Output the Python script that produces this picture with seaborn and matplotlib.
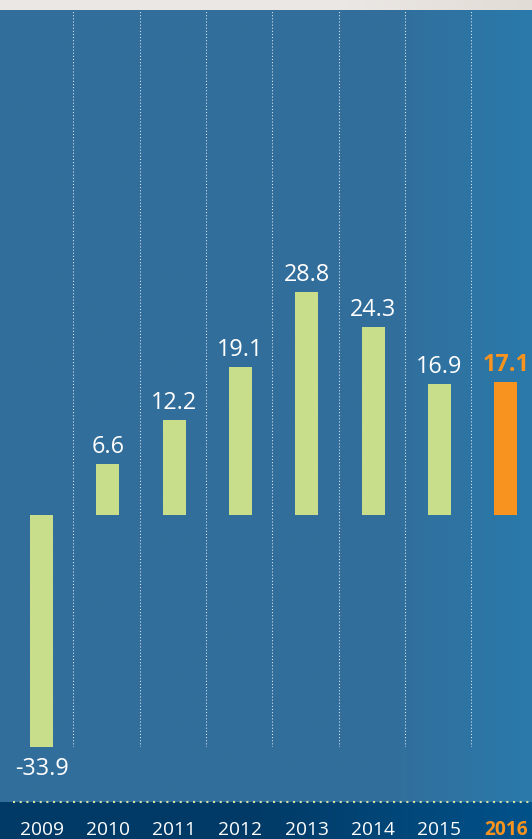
import numpy as np
import pandas as pd
import matplotlib
matplotlib.use("Agg")
import matplotlib.pyplot as plt
import seaborn as sns
from matplotlib.colors import to_rgb

# ---- data ----
years = ["2009", "2010", "2011", "2012", "2013", "2014", "2015", "2016"]
values = [-33.9, 6.6, 12.2, 19.1, 28.8, 24.3, 16.9, 17.1]
highlight_year = "2016"

# ---- style ----
sns.set_theme(style="white")
plt.rcParams['font.family'] = ['Open Sans', 'DejaVu Sans']

BAR_GREEN = "#c9de8a"
ORANGE = "#f7931e"
WHITE = "#ffffff"

W, H = 532, 839
fig = plt.figure(figsize=(W / 100, H / 100), dpi=100)

# background layer (pixel coordinates, y upward)
bg = fig.add_axes([0, 0, 1, 1], zorder=0)
bg.set_xlim(0, W)
bg.set_ylim(0, H)
bg.axis('off')


def hgrad(ax, y0, y1, c0, c1, start):
    xs = np.linspace(0, W, 400)
    t = np.clip((xs - start) / (W - start), 0, 1)[:, None]
    a, b = np.array(to_rgb(c0)), np.array(to_rgb(c1))
    img = (a + (b - a) * t)[None, :, :]
    ax.imshow(img, extent=(0, W, y0, y1), aspect='auto',
              interpolation='bilinear', origin='lower', zorder=0)


hgrad(bg, H - 10, H, "#ebe7e4", "#e2dcd6", 350)          # top light strip
hgrad(bg, 37, H - 10, "#326e9b", "#2a7aab", 390)         # main blue panel
hgrad(bg, 0, 37, "#013a66", "#02528a", 250)              # bottom navy band
bg.plot([13, W], [H - 802, H - 802], color="#d3e3a4", lw=1.5,
        ls=(0, (1, 2.2)), solid_capstyle='round', zorder=2)
bg.set_xlim(0, W)
bg.set_ylim(0, H)

# ---- main chart ----
ax = fig.add_axes([0, (H - 747) / H, 1, (747 - 10) / H], zorder=1)
ax.patch.set_alpha(0)

df = pd.DataFrame({"year": years, "value": values})
palette = {y: (ORANGE if y == highlight_year else BAR_GREEN) for y in years}
sns.barplot(data=df, x="year", y="value", hue="year", palette=palette,
            width=0.347, saturation=1, legend=False, ax=ax, zorder=2,
            linewidth=0, edgecolor="none")

ymin, ymax = -30, 65.2
ax.set_xlim(-0.626, 7.398)
ax.set_ylim(ymin, ymax)
for s in ax.spines.values():
    s.set_visible(False)
ax.set_xticks([])
ax.set_yticks([])
ax.set_xlabel("")
ax.set_ylabel("")

# dotted column separators
for i in range(len(years) - 1):
    ax.axvline(i + 0.48, color="#dfeaf3", lw=0.75, ls=(0, (1, 2)), zorder=1)

# value labels
for i, (y, v) in enumerate(zip(years, values)):
    hl = (y == highlight_year)
    col = ORANGE if hl else WHITE
    weight = 'bold' if hl else 'normal'
    if v >= 0:
        ax.annotate(f"{v}", (i, v), xytext=(0, 7.9), textcoords='offset points',
                    ha='center', va='baseline', fontsize=16.8, color=col,
                    fontweight=weight, annotation_clip=False)
    else:
        ax.annotate(f"{v}", (i, max(v, ymin)), xytext=(0, -20),
                    textcoords='offset points', ha='center', va='baseline',
                    fontsize=16.8, color=col, fontweight=weight,
                    annotation_clip=False)

# year labels in bottom band
for i, y in enumerate(years):
    hl = (y == highlight_year)
    ax.text(i, -(835 - 747) / (747 - 10), y, transform=ax.get_xaxis_transform(),
            ha='center', va='baseline', fontsize=13.8,
            color=ORANGE if hl else WHITE, fontweight='bold' if hl else 'normal',
            clip_on=False)

fig.savefig("out.png", dpi=100)
